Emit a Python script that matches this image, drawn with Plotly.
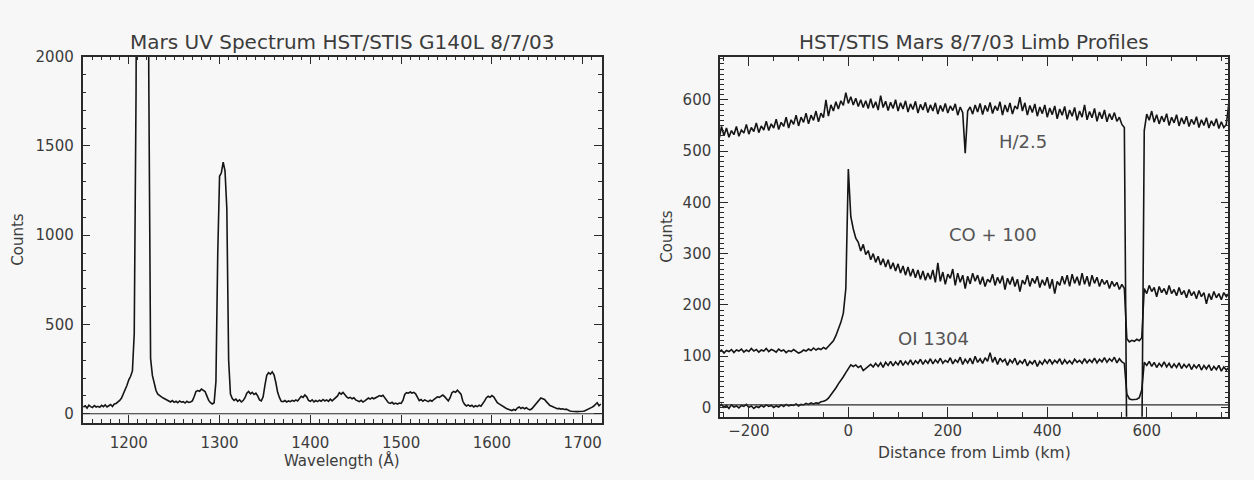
import plotly.graph_objects as go

# ---------------- data: left panel (UV spectrum) ----------------
wavelength = list(range(1150, 1721, 2))  # Angstrom sampling grid
spectrum_counts = [
    38, 45, 32, 48, 40, 35, 46, 38, 42, 36,          # 1150-1168
    47, 40, 50, 38, 45, 52, 41, 55, 58, 65,          # 1170-1188
    75, 88, 110, 130, 160, 190, 210, 240, 450, 1800,  # 1190-1208
    6000, 12000, 14000, 14000, 12000, 6000, 1900, 310, 215, 170,  # 1210-1228
    130, 110, 100, 95, 88, 82, 75, 72, 66, 74,       # 1230-1248
    64, 70, 62, 72, 65, 68, 60, 70, 64, 66,          # 1250-1268
    72, 95, 125, 130, 126, 138, 132, 125, 100, 75,   # 1270-1288
    62, 55, 62, 180, 900, 1330, 1350, 1410, 1360, 1150,  # 1290-1308
    300, 110, 85, 75, 82, 70, 78, 66, 74, 90,        # 1310-1328
    115, 125, 112, 120, 108, 115, 100, 78, 72, 95,   # 1330-1348
    160, 215, 230, 222, 235, 218, 175, 120, 90, 70,  # 1350-1368
    68, 74, 66, 72, 68, 75, 70, 78, 72, 85,          # 1370-1388
    98, 92, 105, 95, 75, 70, 78, 66, 74, 68,         # 1390-1408
    76, 70, 80, 72, 78, 70, 82, 72, 80, 88,          # 1410-1428
    100, 118, 110, 120, 105, 95, 88, 92, 84, 90,     # 1430-1448
    78, 72, 68, 75, 66, 72, 82, 88, 82, 90,          # 1450-1468
    84, 88, 95, 102, 98, 104, 92, 78, 62, 58,        # 1470-1488
    64, 55, 60, 54, 60, 58, 75, 108, 118, 115,       # 1490-1508
    122, 116, 120, 112, 88, 74, 80, 70, 78, 72,      # 1510-1528
    68, 76, 70, 80, 88, 95, 92, 100, 105, 96,        # 1530-1548
    85, 72, 90, 118, 125, 120, 132, 122, 110, 70,    # 1550-1568
    52, 44, 50, 42, 48, 38, 45, 40, 48, 42,          # 1570-1588
    55, 72, 90, 98, 92, 102, 95, 80, 62, 55,         # 1590-1608
    48, 40, 35, 30, 26, 22, 18, 24, 20, 32,          # 1610-1628
    38, 30, 36, 28, 34, 26, 22, 28, 40, 55,          # 1630-1648
    70, 82, 88, 84, 80, 68, 55, 46, 42, 38,          # 1650-1668
    32, 28, 30, 26, 28, 24, 26, 20, 16, 14,          # 1670-1688
    12, 14, 12, 13, 12, 14, 16, 20, 24, 30,          # 1690-1708
    36, 42, 50, 62, 45, 55,                          # 1710-1720
]

# ---------------- data: right panel (limb profiles) ----------------
limb_km = list(range(-260, 766, 5))  # distance-from-limb sampling grid
h_over_2p5 = [
    522, 548, 530, 545, 527, 540, 532, 548, 529, 541,   # -260..-215
    535, 552, 533, 546, 538, 555, 536, 549, 541, 558,   # -210..-165
    540, 553, 545, 562, 542, 556, 548, 566, 545, 561,   # -160..-115
    552, 570, 549, 566, 556, 574, 553, 570, 560, 578,   # -110..-65
    557, 574, 565, 600, 568, 590, 578, 596, 582, 598,   # -60..-15
    589, 614, 593, 606, 590, 603, 587, 600, 585, 598,   # -10..35
    583, 602, 584, 596, 580, 608, 585, 597, 579, 595,   # 40..85
    583, 600, 578, 594, 582, 598, 576, 592, 581, 597,   # 90..135
    574, 591, 580, 595, 575, 590, 578, 594, 572, 589,   # 140..185
    577, 593, 574, 588, 579, 592, 570, 586, 575, 496,   # 190..235
    578, 586, 572, 590, 576, 593, 571, 589, 577, 595,   # 240..285
    573, 588, 579, 596, 570, 590, 576, 594, 572, 588,   # 290..335
    582, 605, 578, 594, 570, 589, 575, 592, 568, 586,   # 340..385
    573, 590, 566, 584, 571, 588, 563, 582, 570, 587,   # 390..435
    562, 580, 568, 585, 560, 578, 566, 590, 561, 577,   # 440..485
    565, 583, 558, 576, 563, 580, 557, 573, 561, 575,   # 490..535
    558, 566, 552, 546, -100, -100, -100, -100, -100, -100,  # 540..585
    -100, 540, 572, 560, 578, 556, 571, 553, 568, 557,  # 590..635
    573, 550, 566, 555, 571, 549, 565, 553, 568, 548,   # 640..685
    562, 552, 567, 546, 561, 550, 565, 545, 559, 549,   # 690..735
    563, 544, 557, 546, 552, 592,                       # 740..765
]
co_plus_100 = [
    108, 112, 106, 111, 109, 113, 107, 112, 110, 114,   # -260..-215
    108, 112, 109, 115, 110, 113, 108, 112, 110, 115,   # -210..-165
    109, 113, 111, 108, 114, 110, 112, 107, 111, 109,   # -160..-115
    113, 110, 106, 108, 112, 110, 114, 111, 116, 112,   # -110..-65
    115, 113, 117, 114, 120, 124, 130, 140, 152, 166,   # -60..-15
    184, 232, 465, 372, 348, 330, 322, 305, 318, 298,   # -10..35
    306, 288, 300, 283, 295, 278, 290, 274, 288, 270,   # 40..85
    282, 266, 280, 262, 276, 258, 274, 256, 270, 253,   # 90..135
    268, 250, 266, 248, 262, 250, 268, 244, 282, 246,   # 140..185
    264, 240, 260, 252, 270, 238, 262, 244, 258, 232,   # 190..235
    256, 241, 262, 246, 258, 240, 255, 236, 250, 244,   # 240..285
    260, 238, 254, 242, 257, 230, 252, 240, 255, 236,   # 290..335
    250, 226, 248, 240, 258, 236, 252, 242, 256, 234,   # 340..385
    249, 238, 254, 232, 250, 222, 246, 238, 256, 240,   # 390..435
    258, 236, 260, 242, 255, 238, 262, 240, 256, 236,   # 440..485
    258, 242, 254, 236, 250, 240, 248, 232, 246, 236,   # 490..535
    244, 230, 240, 232, 134, 128, 131, 129, 133, 130,   # 540..585
    136, 232, 222, 238, 226, 234, 216, 236, 224, 232,   # 590..635
    220, 238, 222, 230, 218, 234, 220, 228, 214, 230,   # 640..685
    218, 226, 212, 228, 216, 224, 202, 222, 210, 226,   # 690..735
    214, 222, 210, 224, 216, 222,                       # 740..765
]
oi_1304 = [
    2, 6, 0, 4, -2, 5, 1, 3, -1, 4,                     # -260..-215
    2, 6, 0, 3, -2, 2, 0, 4, 1, 5,                      # -210..-165
    2, 4, 0, 3, 1, 5, 2, 6, 3, 5,                       # -160..-115
    4, 7, 3, 6, 5, 8, 6, 9, 7, 9,                       # -110..-65
    8, 11, 12, 14, 18, 24, 32, 38, 46, 52,              # -60..-15
    60, 68, 76, 83, 80, 83, 78, 81, 72, 76,             # -10..35
    80, 84, 79, 86, 80, 87, 78, 88, 82, 90,             # 40..85
    81, 89, 83, 92, 82, 90, 84, 93, 83, 91,             # 90..135
    86, 94, 84, 92, 86, 95, 85, 93, 87, 96,             # 140..185
    86, 92, 88, 97, 85, 93, 88, 98, 84, 94,             # 190..235
    87, 96, 85, 100, 88, 95, 86, 97, 90, 107,           # 240..285
    88, 98, 84, 96, 89, 94, 82, 93, 87, 96,             # 290..335
    83, 91, 86, 94, 81, 90, 85, 92, 80, 90,             # 340..385
    84, 93, 86, 94, 85, 92, 87, 95, 84, 93,             # 390..435
    86, 91, 85, 94, 88, 92, 86, 95, 87, 93,             # 440..485
    88, 96, 87, 94, 89, 97, 88, 95, 90, 98,             # 490..535
    87, 95, 89, 86, 26, 17, 15, 15, 16, 19,             # 540..585
    34, 88, 82, 90, 80, 88, 78, 86, 80, 89,             # 590..635
    79, 86, 77, 85, 78, 87, 76, 84, 78, 85,             # 640..685
    74, 83, 77, 84, 73, 82, 75, 83, 72, 80,             # 690..735
    74, 82, 71, 79, 73, 78,                             # 740..765
]

assert len(wavelength) == len(spectrum_counts), (len(wavelength), len(spectrum_counts))
assert len(limb_km) == len(h_over_2p5) == len(co_plus_100) == len(oi_1304), (
    len(limb_km), len(h_over_2p5), len(co_plus_100), len(oi_1304))

left_title = "Mars UV Spectrum HST/STIS G140L 8/7/03"
right_title = "HST/STIS Mars 8/7/03 Limb Profiles"
left_xlabel = "Wavelength (Å)"
right_xlabel = "Distance from Limb (km)"
ylabel = "Counts"
curve_labels = [("H/2.5", 351, 518), ("CO + 100", 290, 337), ("OI 1304", 171, 135)]

# ---------------- figure ----------------
W, H = 1254, 480
FONT = "DejaVu Sans"
TXT = "#3c3c3c"
INK = "#151515"
BG = "#f7f7f7"

fig = go.Figure()
line_style = dict(color=INK, width=1.6)
fig.add_trace(go.Scatter(x=wavelength, y=spectrum_counts, mode="lines", line=line_style,
                         xaxis="x", yaxis="y", showlegend=False, hoverinfo="skip"))
for series in (h_over_2p5, co_plus_100, oi_1304):
    fig.add_trace(go.Scatter(x=limb_km, y=series, mode="lines", line=line_style,
                             xaxis="x2", yaxis="y2", showlegend=False, hoverinfo="skip"))


def ax(rng, dtick, minor_dtick, domain, anchor, major_len=8, minor_len=4, standoff=4):
    return dict(
        domain=domain, range=rng, anchor=anchor, dtick=dtick, tick0=0,
        showline=True, linecolor="#2a2a2a", linewidth=1.5, mirror="ticks",
        ticks="inside", ticklen=major_len, tickwidth=1.2, tickcolor="#2a2a2a",
        showgrid=False, zeroline=False, automargin=False, ticklabelstandoff=standoff,
        tickfont=dict(family=FONT, size=15, color=TXT),
        minor=dict(ticks="inside", ticklen=minor_len, tickwidth=1, tickcolor="#2a2a2a",
                   dtick=minor_dtick, showgrid=False),
    )


fig.update_layout(
    width=W, height=H, margin=dict(l=0, r=0, t=0, b=0),
    paper_bgcolor=BG, plot_bgcolor=BG,
    xaxis=ax([1149, 1721], 100, 10, [82.5 / W, 601.7 / W], "y", standoff=6),
    yaxis=ax([-50, 2000], 500, 100, [1 - 422.7 / H, 1 - 56.7 / H], "x"),
    xaxis2=ax([-258, 764], 200, 50, [720 / W, 1228.3 / W], "y2", major_len=10, minor_len=5,
              standoff=0),
    yaxis2=ax([-18, 684], 100, 10, [1 - 416.7 / H, 1 - 56.7 / H], "x2"),
)

# baselines
fig.add_shape(type="line", xref="x domain", yref="y", x0=0, x1=1, y0=0, y1=0,
              line=dict(color="#2a2a2a", width=1.2))
fig.add_shape(type="line", xref="x2 domain", yref="y2", x0=0, x1=1, y0=5, y1=5,
              line=dict(color="#2a2a2a", width=1.2))


def label(text, x, y, size, xref="paper", yref="paper", angle=0, color=TXT):
    return dict(text=text, x=x, y=y, xref=xref, yref=yref, xanchor="center",
                yanchor="middle", textangle=angle, showarrow=False,
                font=dict(family=FONT, size=size, color=color))


ann = [
    label(left_title, 342 / W, 1 - 42 / H, 20),
    label(right_title, 974 / W, 1 - 42 / H, 20),
    label(left_xlabel, 342 / W, 1 - 460 / H, 15),
    label(right_xlabel, 974 / W, 1 - 453 / H, 15.5),
    label(ylabel, 18 / W, 1 - 239.7 / H, 15, angle=-90),
    label(ylabel, 667 / W, 1 - 236.7 / H, 15, angle=-90),
]
for text, xv, yv in curve_labels:
    ann.append(label(text, xv, yv, 18, xref="x2", yref="y2", color="#555555"))
fig.update_layout(annotations=ann)

fig.write_html(
    "out.html",
    config={"displayModeBar": False},
    post_script="document.body.style.margin='0';document.body.style.padding='0';",
)
